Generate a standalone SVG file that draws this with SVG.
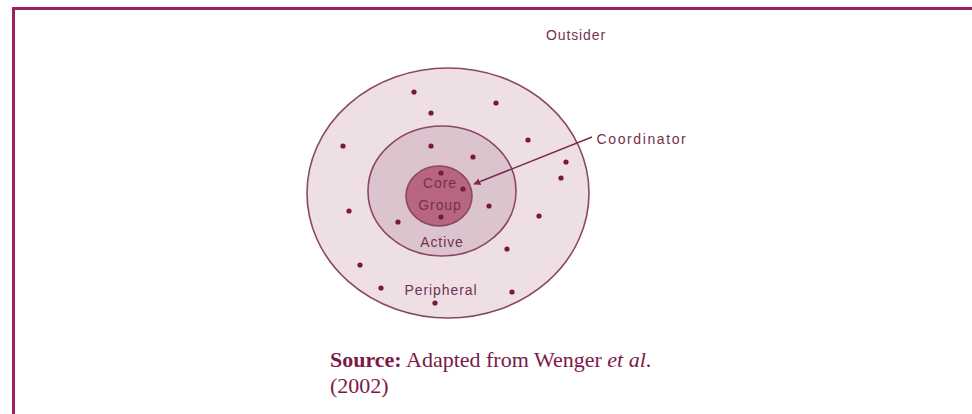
<svg xmlns="http://www.w3.org/2000/svg" width="972" height="414" viewBox="0 0 972 414">
<defs>
<style>
.ring{stroke:#8a4763;stroke-width:1.6}
.dot{fill:#7a1838}
.lbl{font-family:"Liberation Sans",Arial,sans-serif;font-size:14px;letter-spacing:0.9px;fill:#74304f;text-anchor:middle}
.src{font-family:"Liberation Serif","Times New Roman",serif;font-size:22px;fill:#7a1a48}
</style>
<marker id="ah" viewBox="0 0 10 10" refX="9" refY="5" markerWidth="7" markerHeight="7" orient="auto" markerUnits="userSpaceOnUse">
<path d="M0,0 L10,5 L0,10 z" fill="#7a2a4d"/>
</marker>
</defs>
<rect width="972" height="414" fill="#ffffff"/>
<g id="frame">
<line x1="13.5" y1="8.5" x2="972" y2="8.5" stroke="#9e1f62" stroke-width="3"/>
<line x1="13.5" y1="7" x2="13.5" y2="414" stroke="#9e1f62" stroke-width="3"/>
</g>
<g id="peripheral">
<ellipse class="ring" cx="448" cy="193" rx="141" ry="125" fill="#eedfe5"/>
<text class="lbl" x="441" y="295">Peripheral</text>
</g>
<g id="active">
<ellipse class="ring" cx="442" cy="191" rx="74" ry="65" fill="#dcc4ce"/>
<text class="lbl" x="442" y="247">Active</text>
</g>
<g id="core">
<ellipse class="ring" cx="439" cy="196" rx="33" ry="30" fill="#b8667f"/>
<text class="lbl" x="440" y="188">Core</text>
<text class="lbl" x="440" y="210">Group</text>
</g>
<g id="members">
<circle class="dot" cx="414" cy="92" r="2.6"/>
<circle class="dot" cx="496" cy="103" r="2.6"/>
<circle class="dot" cx="431" cy="113" r="2.6"/>
<circle class="dot" cx="528" cy="140" r="2.6"/>
<circle class="dot" cx="343" cy="146" r="2.6"/>
<circle class="dot" cx="431" cy="146" r="2.6"/>
<circle class="dot" cx="473" cy="157" r="2.6"/>
<circle class="dot" cx="566" cy="162" r="2.6"/>
<circle class="dot" cx="561" cy="178" r="2.6"/>
<circle class="dot" cx="441" cy="173" r="2.6"/>
<circle class="dot" cx="463" cy="189" r="2.6"/>
<circle class="dot" cx="489" cy="206" r="2.6"/>
<circle class="dot" cx="349" cy="211" r="2.6"/>
<circle class="dot" cx="539" cy="216" r="2.6"/>
<circle class="dot" cx="441" cy="217" r="2.6"/>
<circle class="dot" cx="398" cy="222" r="2.6"/>
<circle class="dot" cx="507" cy="249" r="2.6"/>
<circle class="dot" cx="360" cy="265" r="2.6"/>
<circle class="dot" cx="381" cy="288" r="2.6"/>
<circle class="dot" cx="512" cy="292" r="2.6"/>
<circle class="dot" cx="435" cy="303" r="2.6"/>
</g>
<g id="outsider">
<text class="lbl" x="576" y="40">Outsider</text>
</g>
<g id="coordinator">
<text class="lbl" x="642" y="144" style="letter-spacing:1.6px">Coordinator</text>
</g>
<g id="connectors">
<line x1="592" y1="137" x2="474" y2="184" stroke="#7a2a4d" stroke-width="1.5" marker-end="url(#ah)"/>
</g>
<g id="source">
<text class="src" x="330" y="367"><tspan font-weight="bold">Source:</tspan> Adapted from Wenger <tspan font-style="italic">et al</tspan>.</text>
<text class="src" x="330" y="393">(2002)</text>
</g>
</svg>
